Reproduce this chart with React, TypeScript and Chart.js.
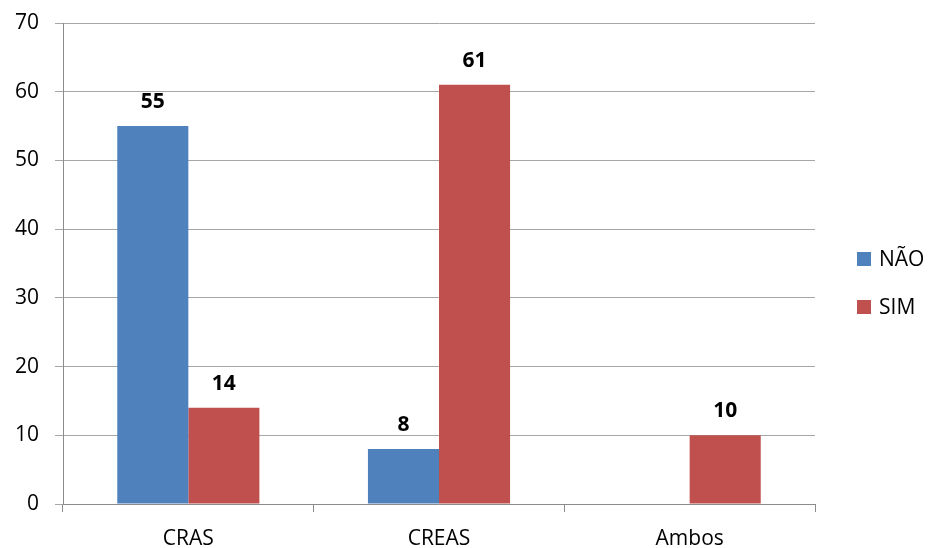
import { useEffect, useRef } from "react";
import { Chart, registerables } from "chart.js";

Chart.register(...registerables);

const categories = ["CRAS", "CREAS", "Ambos"];
const naoValues = [55, 8, 0];
const simValues = [14, 61, 10];
const seriesNames = ["NÃO", "SIM"];
const seriesColors = ["#4F81BD", "#C0504D"];
const yMin = 0;
const yMax = 70;
const yStep = 10;

const FONT = "'Open Sans', 'Liberation Sans', sans-serif";
const FONT_SIZE = 21;

// Bold value labels above each non-zero bar
const valueLabels = {
  id: "valueLabels",
  afterDatasetsDraw(chart: any) {
    const ctx = chart.ctx;
    ctx.save();
    ctx.font = `bold ${FONT_SIZE}px ${FONT}`;
    ctx.fillStyle = "#000";
    ctx.textAlign = "center";
    ctx.textBaseline = "alphabetic";
    chart.data.datasets.forEach((ds: any, di: number) => {
      const meta = chart.getDatasetMeta(di);
      meta.data.forEach((el: any, i: number) => {
        const v = ds.data[i];
        if (!v) return;
        ctx.fillText(String(v), el.x, el.y - 18);
      });
    });
    ctx.restore();
  },
};

// Vertical legend to the right of the plot area
const sideLegend = {
  id: "sideLegend",
  afterDraw(chart: any) {
    const ctx = chart.ctx;
    const area = chart.chartArea;
    const box = 14;
    const gap = 48;
    const x = area.right + 42;
    const items = chart.data.datasets;
    const centerY = chart.height / 2 + 9;
    const startY = centerY - ((items.length - 1) * gap) / 2;
    ctx.save();
    ctx.font = `${FONT_SIZE}px ${FONT}`;
    ctx.textAlign = "left";
    ctx.textBaseline = "middle";
    items.forEach((ds: any, i: number) => {
      const cy = startY + i * gap;
      ctx.fillStyle = ds.backgroundColor;
      ctx.fillRect(x, cy - box / 2, box, box);
      ctx.fillStyle = "#000";
      ctx.fillText(ds.label, x + box + 8, cy + 1);
    });
    ctx.restore();
  },
};

export default function App() {
  const ref = useRef<HTMLCanvasElement | null>(null);

  useEffect(() => {
    if (!ref.current) return;
    const chart = new Chart(ref.current, {
      type: "bar",
      data: {
        labels: categories,
        datasets: [
          {
            label: seriesNames[0],
            data: naoValues,
            backgroundColor: seriesColors[0],
            barPercentage: 1,
            categoryPercentage: 0.567,
          },
          {
            label: seriesNames[1],
            data: simValues,
            backgroundColor: seriesColors[1],
            barPercentage: 1,
            categoryPercentage: 0.567,
          },
        ],
      },
      plugins: [valueLabels, sideLegend],
      options: {
        animation: false,
        responsive: false,
        layout: { padding: { top: 23, right: 117, left: 0, bottom: 0 } },
        plugins: {
          tooltip: { enabled: false },
          legend: { display: false },
        },
        scales: {
          x: {
            grid: {
              offset: true,
              drawOnChartArea: false,
              tickLength: 8,
              color: "#8C8C8C",
            },
            border: { color: "#8C8C8C" },
            ticks: {
              color: "#000",
              padding: 14,
              font: { family: FONT, size: FONT_SIZE },
            },
            afterFit(scale: any) {
              scale.height = 44;
              scale.paddingLeft = 0;
              scale.paddingRight = 0;
            },
          },
          y: {
            min: yMin,
            max: yMax,
            grid: { color: "#A6A6A6", tickLength: 8 },
            border: { color: "#8C8C8C" },
            ticks: {
              stepSize: yStep,
              color: "#000",
              padding: 16,
              font: { family: FONT, size: FONT_SIZE },
            },
            afterFit(scale: any) {
              scale.width = 63;
              scale.paddingTop = 0;
              scale.paddingBottom = 0;
            },
          },
        },
      },
    });
    return () => chart.destroy();
  }, []);

  return (
    <div style={{ position: "absolute", left: 0, top: 0, width: 932, height: 548, background: "#fff" }}>
      <canvas ref={ref} width={932} height={548} />
    </div>
  );
}
